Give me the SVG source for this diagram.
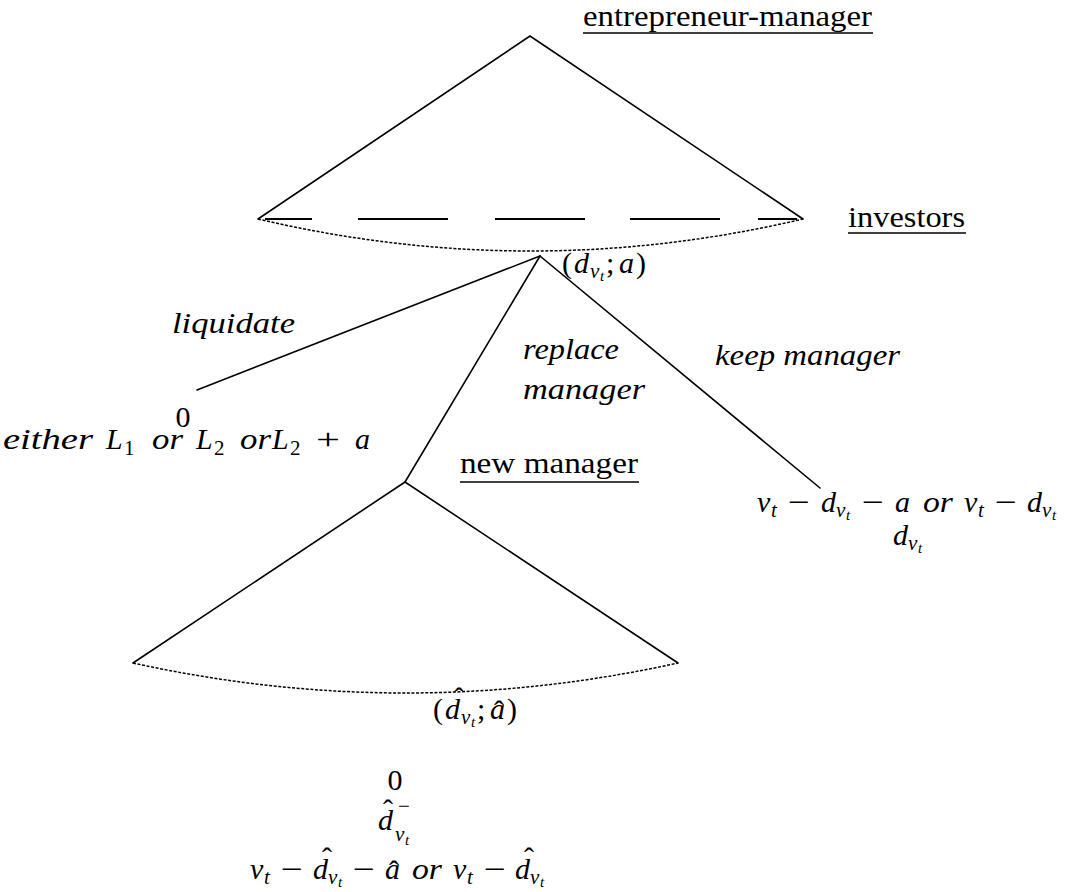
<svg xmlns="http://www.w3.org/2000/svg" width="1065" height="892" viewBox="0 0 1065 892">
<style>
text { font-family: "Liberation Serif", "DejaVu Serif", serif; fill: #000; }
.rm { font-size: 29px; }
.it { font-size: 30px; font-style: italic; }
.m { font-size: 30px; }
.sub { font-size: 21px; }
.ss { font-size: 15px; }
.ln { stroke: #000; stroke-width: 1.6; fill: none; stroke-linecap: round; }
.ul { stroke: #000; stroke-width: 1.6; }
.dash { stroke: #000; stroke-width: 2.2; fill: none; }
.dot { stroke: #000; stroke-width: 1.5; stroke-dasharray: 3 1.6; fill: none; }
</style>
<rect width="1065" height="892" fill="#fff"/>

<g id="node-entrepreneur-manager">
  <path class="ln" d="M258,219 L530,36 L803,219"/>
  <text class="rm" x="583" y="26" textLength="289" lengthAdjust="spacingAndGlyphs">entrepreneur-manager</text>
  <line class="ul" x1="583" y1="33" x2="873" y2="33"/>
</g>

<g id="node-investors">
  <path class="dash" d="M265,219H312M358,219H448M495,219H585M630,219H720M758,219H797"/>
  <path class="dot" d="M258,219 Q530.5,283 803,219"/>
  <text class="rm" x="848" y="227" textLength="117" lengthAdjust="spacingAndGlyphs">investors</text>
  <line class="ul" x1="848" y1="233" x2="966" y2="233"/>
  <g id="label-d-a">
    <text class="m" x="562" y="273">(</text>
    <text class="it" x="574" y="273">d</text>
    <text class="it sub" x="590" y="278">v</text>
    <text class="it ss" x="600" y="281">t</text>
    <text class="m" x="606" y="273">;</text>
    <text class="it" x="619" y="273">a</text>
    <text class="m" x="636" y="273">)</text>
  </g>
</g>

<g id="terminal-liquidate">
  <text class="m" x="183" y="427" text-anchor="middle">0</text>
  <text class="it" x="3" y="449" textLength="90" lengthAdjust="spacingAndGlyphs">either</text>
  <text class="it" x="106" y="449">L</text>
  <text class="m sub" x="124" y="455">1</text>
  <text class="it" x="152" y="449" textLength="31" lengthAdjust="spacingAndGlyphs">or</text>
  <text class="it" x="196" y="449">L</text>
  <text class="m sub" x="214" y="455">2</text>
  <text class="it" x="240" y="449" textLength="31" lengthAdjust="spacingAndGlyphs">or</text>
  <text class="it" x="272" y="449">L</text>
  <text class="m sub" x="290" y="455">2</text>
  <text class="m" x="328" y="449" text-anchor="middle" textLength="24" lengthAdjust="spacingAndGlyphs">+</text>
  <text class="it" x="355" y="449">a</text>
</g>

<g id="node-new-manager">
  <path class="ln" d="M133,663 L405,482 L678,663"/>
  <path class="dot" d="M133,663 Q405.5,723 678,663"/>
  <text class="rm" x="460" y="473" textLength="178" lengthAdjust="spacingAndGlyphs">new manager</text>
  <line class="ul" x1="460" y1="482" x2="639" y2="482"/>
  <g id="label-dhat-ahat">
    <text class="m" x="433" y="719">(</text>
    <text class="it" x="445" y="719">d</text>
    <text class="m" x="459" y="708" text-anchor="middle">ˆ</text>
    <text class="it sub" x="461" y="724">v</text>
    <text class="it ss" x="471" y="727">t</text>
    <text class="m" x="477" y="719">;</text>
    <text class="it" x="490" y="719">a</text>
    <text class="m" x="499" y="721" text-anchor="middle">ˆ</text>
    <text class="m" x="507" y="719">)</text>
  </g>
</g>

<g id="terminal-keep">
  <text class="it" x="757" y="512">v</text>
  <text class="it sub" x="771" y="517">t</text>
  <text class="m" x="788" y="512" textLength="22" lengthAdjust="spacingAndGlyphs">−</text>
  <text class="it" x="821" y="512">d</text>
  <text class="it sub" x="836" y="517">v</text>
  <text class="it ss" x="846" y="520">t</text>
  <text class="m" x="862" y="512" textLength="22" lengthAdjust="spacingAndGlyphs">−</text>
  <text class="it" x="895" y="512">a</text>
  <text class="it" x="923" y="512" textLength="30" lengthAdjust="spacingAndGlyphs">or</text>
  <text class="it" x="964" y="512">v</text>
  <text class="it sub" x="978" y="517">t</text>
  <text class="m" x="995" y="512" textLength="22" lengthAdjust="spacingAndGlyphs">−</text>
  <text class="it" x="1027" y="512">d</text>
  <text class="it sub" x="1042" y="517">v</text>
  <text class="it ss" x="1052" y="520">t</text>
  <text class="it" x="893" y="545">d</text>
  <text class="it sub" x="908" y="550">v</text>
  <text class="it ss" x="918" y="553">t</text>
</g>

<g id="terminal-new-manager">
  <text class="m" x="395" y="790" text-anchor="middle">0</text>
  <text class="it" x="378" y="830">d</text>
  <text class="m" x="388" y="820" text-anchor="middle">ˆ</text>
  <text class="m sub" x="398" y="813">−</text>
  <text class="it sub" x="395" y="841">v</text>
  <text class="it ss" x="405" y="845">t</text>

  <text class="it" x="250" y="879">v</text>
  <text class="it sub" x="264" y="884">t</text>
  <text class="m" x="281" y="879" textLength="22" lengthAdjust="spacingAndGlyphs">−</text>
  <text class="it" x="313" y="879">d</text>
  <text class="m" x="327" y="868" text-anchor="middle">ˆ</text>
  <text class="it sub" x="328" y="884">v</text>
  <text class="it ss" x="338" y="887">t</text>
  <text class="m" x="353" y="879" textLength="22" lengthAdjust="spacingAndGlyphs">−</text>
  <text class="it" x="385" y="879">a</text>
  <text class="m" x="394" y="881" text-anchor="middle">ˆ</text>
  <text class="it" x="412" y="879" textLength="30" lengthAdjust="spacingAndGlyphs">or</text>
  <text class="it" x="453" y="879">v</text>
  <text class="it sub" x="467" y="884">t</text>
  <text class="m" x="484" y="879" textLength="22" lengthAdjust="spacingAndGlyphs">−</text>
  <text class="it" x="515" y="879">d</text>
  <text class="m" x="529" y="868" text-anchor="middle">ˆ</text>
  <text class="it sub" x="530" y="884">v</text>
  <text class="it ss" x="540" y="887">t</text>
</g>

<g id="connectors">
  <line class="ln" x1="540" y1="256" x2="197" y2="390"/>
  <line class="ln" x1="540" y1="256" x2="405" y2="482"/>
  <line class="ln" x1="540" y1="256" x2="820" y2="488"/>
  <text class="it" x="172" y="333" textLength="123" lengthAdjust="spacingAndGlyphs">liquidate</text>
  <text class="it" x="523" y="359" textLength="96" lengthAdjust="spacingAndGlyphs">replace</text>
  <text class="it" x="523" y="399" textLength="122" lengthAdjust="spacingAndGlyphs">manager</text>
  <text class="it" x="715" y="365" textLength="185" lengthAdjust="spacingAndGlyphs">keep manager</text>
</g>
</svg>
